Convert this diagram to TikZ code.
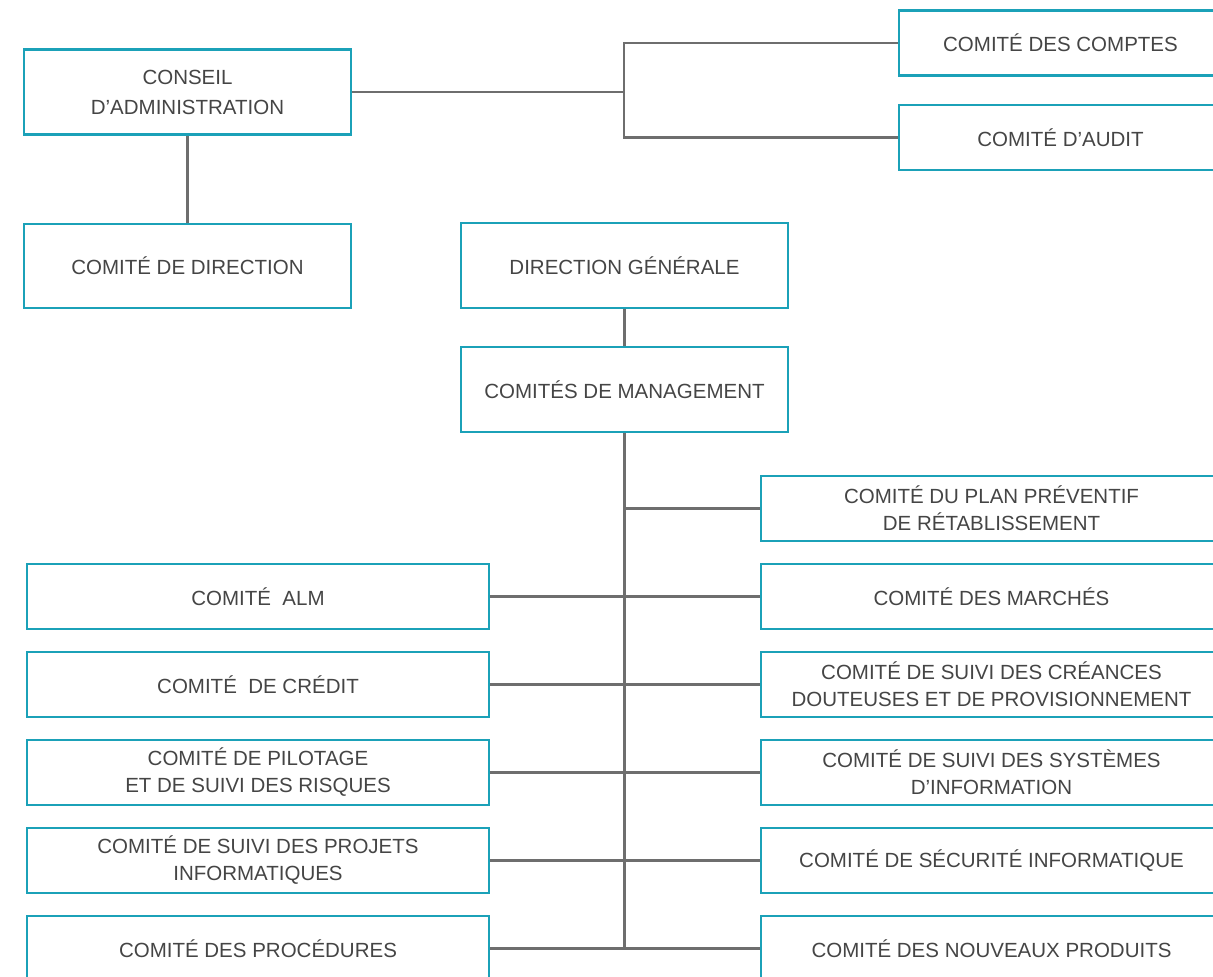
\documentclass[tikz,border=0pt]{standalone}
\usepackage{fontspec}
\setmainfont{Liberation Sans}
\definecolor{boxteal}{HTML}{1BA1B8}
\definecolor{linegray}{HTML}{6E6E6E}
\definecolor{txtgray}{HTML}{454545}
\begin{document}
\begin{tikzpicture}[x=1pt,y=-1pt,
  box/.style={draw=boxteal, line width=2.6pt, fill=white, text=txtgray, align=center,
    inner sep=0pt, font=\fontsize{20.5}{27}\selectfont},
  wide/.style={box, minimum width=327pt, minimum height=85pt},
  lbox/.style={box, minimum width=462pt, minimum height=65pt},
  rbox/.style={box, minimum width=461pt, minimum height=65pt},
  tbox/.style={box, minimum width=323pt, minimum height=65pt},
  link/.style={draw=linegray, line width=2.4pt}]
\clip (0,0) rectangle (1213,977);
\fill[white] (0,0) rectangle (1213,977);
% top left
\node[wide, font=\fontsize{20.5}{30}\selectfont] (conseil) at (187.5,92) {CONSEIL\\D’ADMINISTRATION};
\node[wide, minimum height=84pt] (cdir) at (187.5,266) {COMITÉ DE DIRECTION};
\node[tbox] (comptes) at (1060.5,43) {COMITÉ DES COMPTES};
\node[tbox] (audit) at (1060.5,137.5) {COMITÉ D’AUDIT};
\node[wide] (dg) at (624.5,265.5) {DIRECTION GÉNÉRALE};
\node[wide] (cm) at (624.5,389.5) {COMITÉS DE MANAGEMENT};
% right column
\node[rbox] (plan) at (991.5,508.5) {COMITÉ DU PLAN PRÉVENTIF\\DE RÉTABLISSEMENT};
\node[rbox] (marches) at (991.5,596.5) {COMITÉ DES MARCHÉS};
\node[rbox] (creances) at (991.5,684.5) {COMITÉ DE SUIVI DES CRÉANCES\\DOUTEUSES ET DE PROVISIONNEMENT};
\node[rbox] (si) at (991.5,772.5) {COMITÉ DE SUIVI DES SYSTÈMES\\D’INFORMATION};
\node[rbox] (secu) at (991.5,860.5) {COMITÉ DE SÉCURITÉ INFORMATIQUE};
\node[rbox] (nouv) at (991.5,948.5) {COMITÉ DES NOUVEAUX PRODUITS};
% left column
\node[lbox] (alm) at (258,596.5) {COMITÉ~ ALM};
\node[lbox] (credit) at (258,684.5) {COMITÉ~ DE CRÉDIT};
\node[lbox] (pilot) at (258,772.5) {COMITÉ DE PILOTAGE\\ET DE SUIVI DES RISQUES};
\node[lbox] (projets) at (258,860.5) {COMITÉ DE SUIVI DES PROJETS\\INFORMATIQUES};
\node[lbox] (proc) at (258,948.5) {COMITÉ DES PROCÉDURES};
% connectors
\coordinate (j1) at (624,92);
\coordinate (tend) at (624.5,947);
\draw[link] (conseil.east) -- (j1);
\draw[link] (comptes.west) -| (j1) |- (audit.west);
\draw[link] (conseil.south) -- (cdir.north);
\draw[link] (dg.south) -- (cm.north);
\draw[link] (cm.south) -- (tend);
\foreach \n in {plan,marches,creances,si,secu,nouv}{
  \draw[link] (\n.west) -- (\n.west -| tend);
}
\foreach \n in {alm,credit,pilot,projets,proc}{
  \draw[link] (\n.east) -- (\n.east -| tend);
}
\end{tikzpicture}
\end{document}
